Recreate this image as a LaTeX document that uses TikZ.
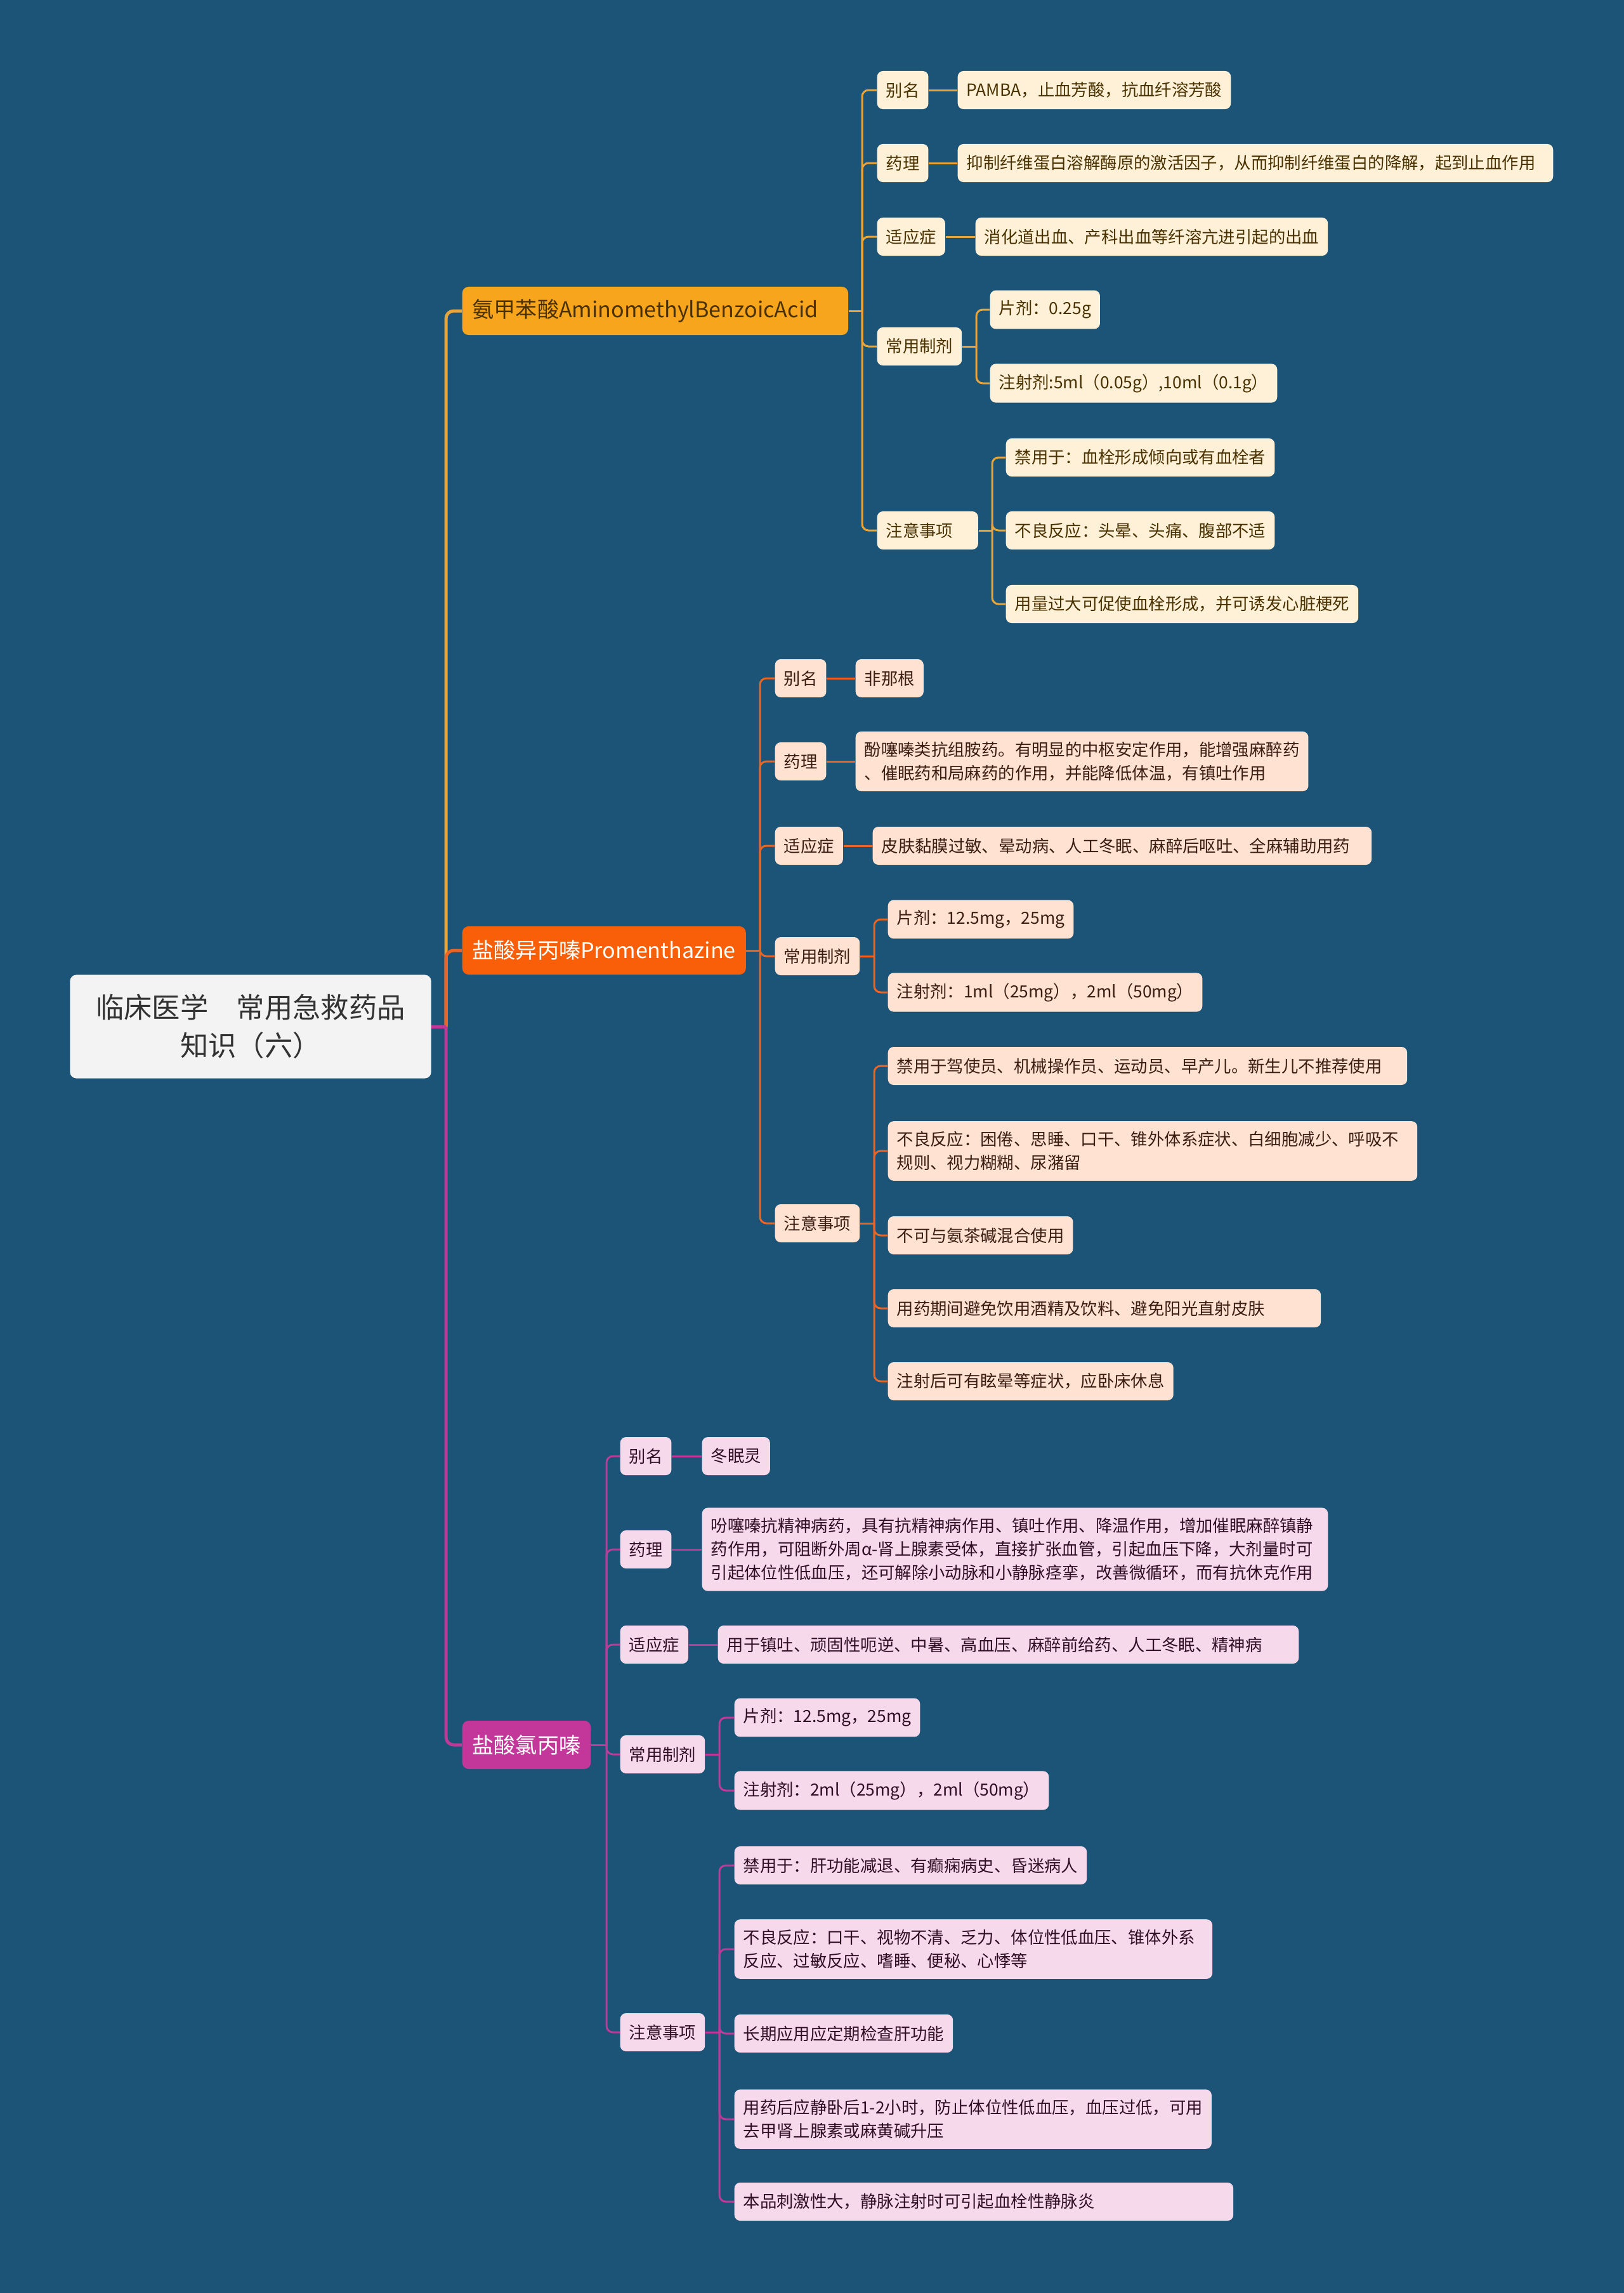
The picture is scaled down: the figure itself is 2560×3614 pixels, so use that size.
\documentclass[tikz,border=0pt]{standalone}
\usepackage{fontspec}
\setmainfont{Noto Sans CJK SC}
\usetikzlibrary{positioning}
\definecolor{bgblue}{HTML}{1B5477}
\definecolor{rootfill}{HTML}{F3F3F3}
\definecolor{rootink}{HTML}{333333}
\definecolor{amber}{HTML}{F8A51E}
\definecolor{amberline}{HTML}{E9A53A}
\definecolor{ambertint}{HTML}{FEF1D8}
\definecolor{amberink}{HTML}{4A3200}
\definecolor{flame}{HTML}{F95E08}
\definecolor{flameline}{HTML}{EC6424}
\definecolor{flametint}{HTML}{FFE2D2}
\definecolor{flameink}{HTML}{3B1E12}
\definecolor{plum}{HTML}{C4379A}
\definecolor{plumline}{HTML}{BE3A98}
\definecolor{plumtint}{HTML}{F6DAEC}
\definecolor{plumink}{HTML}{2E0F24}

\begin{document}
\begin{tikzpicture}[
  x=0.01cm, y=-0.01cm,
  rootbox/.style={
    rectangle, rounded corners=0.1cm, fill=rootfill, text=rootink,
    minimum width=5.69cm, minimum height=1.63cm, align=center,
    font=\fontsize{12.6}{17}\selectfont
  },
  drug/.style={
    rectangle, rounded corners=0.1cm, anchor=west, inner xsep=0.16cm,
    minimum height=0.76cm, align=left, font=\fontsize{9.7}{12}\selectfont
  },
  item/.style={
    rectangle, rounded corners=0.09cm, anchor=west, inner xsep=0.14cm,
    inner ysep=0.16cm, minimum height=0.6cm, align=left,
    font=\fontsize{7.5}{10.5}\selectfont
  },
  itemA/.style={item, fill=ambertint, text=amberink},
  itemB/.style={item, fill=flametint, text=flameink},
  itemC/.style={item, fill=plumtint, text=plumink},
  wide/.style={text width=#1},
  trunk/.style={line width=0.05cm, rounded corners=0.12cm},
  twig/.style={line width=0.03cm, rounded corners=0.1cm}
]
\fill[bgblue] (0,0) rectangle (2560,3614);
\useasboundingbox (0,0) rectangle (2560,3614);

\node[rootbox] (root) at (395,1618) {临床医学　常用急救药品\\知识（六）};
\node[drug, fill=amber, text=amberink, wide=5.76cm] (drugA) at (728,490) {氨甲苯酸AminomethylBenzoicAcid};
\node[drug, fill=flame, text=white] (drugB) at (728,1498) {盐酸异丙嗪Promenthazine};
\node[drug, fill=plum, text=white]  (drugC) at (728,2750) {盐酸氯丙嗪};

\coordinate (hub) at (703,1618);
\draw[trunk, amberline] (hub) |- (drugA.west);
\draw[trunk, flameline] (hub) |- (drugB.west);
\draw[trunk, plumline]  (hub) |- (drugC.west);
\draw[trunk, plumline]  (root.east) -- (hub);

% 氨甲苯酸
\node[itemA] (a1) at (1382,142) {别名};
\node[itemA] (a2) at (1382,257) {药理};
\node[itemA] (a3) at (1382,373) {适应症};
\node[itemA] (a4) at (1382,546) {常用制剂};
\node[itemA, wide=1.31cm] (a5) at (1382,836) {注意事项};
\node[itemA] (a1x) at (1509,142) {PAMBA，止血芳酸，抗血纤溶芳酸};
\node[itemA, wide=9.10cm] (a2x) at (1509,257) {抑制纤维蛋白溶解酶原的激活因子，从而抑制纤维蛋白的降解，起到止血作用};
\node[itemA] (a3x) at (1537,373) {消化道出血、产科出血等纤溶亢进引起的出血};
\node[itemA] (a4x) at (1560,488) {片剂：0.25g};
\node[itemA] (a4y) at (1560,604) {注射剂:5ml（0.05g）,10ml（0.1g）};
\node[itemA] (a5x) at (1585,721) {禁用于：血栓形成倾向或有血栓者};
\node[itemA] (a5y) at (1585,836) {不良反应：头晕、头痛、腹部不适};
\node[itemA] (a5z) at (1585,952) {用量过大可促使血栓形成，并可诱发心脏梗死};

\coordinate (jA) at (1359,490);
\coordinate (jA4) at (1539,546);
\coordinate (jA5) at (1564,836);
\draw[twig, amberline] (drugA.east) -- (jA);
\foreach \n in {a1,a2,a3,a4,a5} \draw[twig, amberline] (jA) |- (\n.west);
\draw[twig, amberline] (a1.east) -- (a1x.west);
\draw[twig, amberline] (a2.east) -- (a2x.west);
\draw[twig, amberline] (a3.east) -- (a3x.west);
\draw[twig, amberline] (a4.east) -- (jA4);
\foreach \n in {a4x,a4y} \draw[twig, amberline] (jA4) |- (\n.west);
\draw[twig, amberline] (a5.east) -- (jA5);
\foreach \n in {a5x,a5y,a5z} \draw[twig, amberline] (jA5) |- (\n.west);

% 盐酸异丙嗪
\node[itemB] (b1) at (1221,1069) {别名};
\node[itemB] (b2) at (1221,1200) {药理};
\node[itemB] (b3) at (1221,1333) {适应症};
\node[itemB] (b4) at (1221,1507) {常用制剂};
\node[itemB] (b5) at (1221,1928) {注意事项};
\node[itemB] (b1x) at (1348,1069) {非那根};
\node[itemB] (b2x) at (1348,1200) {酚噻嗪类抗组胺药。有明显的中枢安定作用，能增强麻醉药\\、催眠药和局麻药的作用，并能降低体温，有镇吐作用};
\node[itemB, wide=7.58cm] (b3x) at (1375,1333) {皮肤黏膜过敏、晕动病、人工冬眠、麻醉后呕吐、全麻辅助用药};
\node[itemB] (b4x) at (1399,1449) {片剂：12.5mg，25mg};
\node[itemB] (b4y) at (1399,1564) {注射剂：1ml（25mg），2ml（50mg）};
\node[itemB, wide=7.90cm] (b5v) at (1399,1680) {禁用于驾使员、机械操作员、运动员、早产儿。新生儿不推荐使用};
\node[itemB, wide=8.06cm] (b5w) at (1399,1814) {不良反应：困倦、思睡、口干、锥外体系症状、白细胞减少、呼吸不\\规则、视力糊糊、尿潴留};
\node[itemB] (b5x) at (1399,1947) {不可与氨茶碱混合使用};
\node[itemB, wide=6.54cm] (b5y) at (1399,2062) {用药期间避免饮用酒精及饮料、避免阳光直射皮肤};
\node[itemB] (b5z) at (1399,2177) {注射后可有眩晕等症状，应卧床休息};

\coordinate (jB) at (1198,1498);
\coordinate (jB4) at (1378,1507);
\coordinate (jB5) at (1378,1928);
\draw[twig, flameline] (drugB.east) -- (jB);
\foreach \n in {b1,b2,b3,b4,b5} \draw[twig, flameline] (jB) |- (\n.west);
\draw[twig, flameline] (b1.east) -- (b1x.west);
\draw[twig, flameline] (b2.east) -- (b2x.west);
\draw[twig, flameline] (b3.east) -- (b3x.west);
\draw[twig, flameline] (b4.east) -- (jB4);
\foreach \n in {b4x,b4y} \draw[twig, flameline] (jB4) |- (\n.west);
\draw[twig, flameline] (b5.east) -- (jB5);
\foreach \n in {b5v,b5w,b5x,b5y,b5z} \draw[twig, flameline] (jB5) |- (\n.west);

% 盐酸氯丙嗪
\node[itemC] (c1) at (977,2295) {别名};
\node[itemC] (c2) at (977,2442) {药理};
\node[itemC] (c3) at (977,2592) {适应症};
\node[itemC] (c4) at (977,2765) {常用制剂};
\node[itemC] (c5) at (977,3203) {注意事项};
\node[itemC] (c1x) at (1106,2295) {冬眠灵};
\node[itemC, wide=9.58cm] (c2x) at (1106,2442) {吩噻嗪抗精神病药，具有抗精神病作用、镇吐作用、降温作用，增加催眠麻醉镇静\\药作用，可阻断外周α-肾上腺素受体，直接扩张血管，引起血压下降，大剂量时可\\引起体位性低血压，还可解除小动脉和小静脉痉挛，改善微循环，而有抗休克作用};
\node[itemC, wide=8.87cm] (c3x) at (1131,2592) {用于镇吐、顽固性呃逆、中暑、高血压、麻醉前给药、人工冬眠、精神病};
\node[itemC] (c4x) at (1157,2707) {片剂：12.5mg，25mg};
\node[itemC] (c4y) at (1157,2822) {注射剂：2ml（25mg），2ml（50mg）};
\node[itemC] (c5v) at (1157,2940) {禁用于：肝功能减退、有癫痫病史、昏迷病人};
\node[itemC, wide=7.25cm] (c5w) at (1157,3072) {不良反应：口干、视物不清、乏力、体位性低血压、锥体外系\\反应、过敏反应、嗜睡、便秘、心悸等};
\node[itemC] (c5x) at (1157,3205) {长期应用应定期检查肝功能};
\node[itemC] (c5y) at (1157,3340) {用药后应静卧后1-2小时，防止体位性低血压，血压过低，可用\\去甲肾上腺素或麻黄碱升压};
\node[itemC, wide=7.58cm] (c5z) at (1157,3470) {本品刺激性大，静脉注射时可引起血栓性静脉炎};

\coordinate (jC) at (956,2750);
\coordinate (jC4) at (1134,2765);
\coordinate (jC5) at (1134,3203);
\draw[twig, plumline] (drugC.east) -- (jC);
\foreach \n in {c1,c2,c3,c4,c5} \draw[twig, plumline] (jC) |- (\n.west);
\draw[twig, plumline] (c1.east) -- (c1x.west);
\draw[twig, plumline] (c2.east) -- (c2x.west);
\draw[twig, plumline] (c3.east) -- (c3x.west);
\draw[twig, plumline] (c4.east) -- (jC4);
\foreach \n in {c4x,c4y} \draw[twig, plumline] (jC4) |- (\n.west);
\draw[twig, plumline] (c5.east) -- (jC5);
\foreach \n in {c5v,c5w,c5x,c5y,c5z} \draw[twig, plumline] (jC5) |- (\n.west);
\end{tikzpicture}
\end{document}
